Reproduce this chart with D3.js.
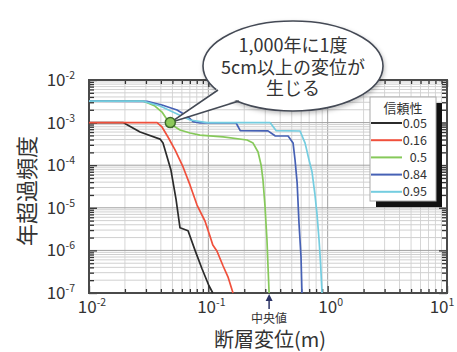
<!DOCTYPE html>
<html><head><meta charset="utf-8">
<script src="https://cdn.jsdelivr.net/npm/d3@7"></script>
<style>
body{margin:0;background:#fff}
text{font-family:"Noto Sans CJK JP","Noto Sans",sans-serif;fill:#333}
</style>
</head><body><svg id="c" width="457" height="352"></svg>
<script>
// ---- data ----
const seriesNames = ["0.05", "0.16", "0.5", "0.84", "0.95"];
const seriesColors = ["#2b2b2b", "#f0503c", "#86c95a", "#4661b5", "#74cde0"];

const disp005 = [0.01, 0.0193, 0.0268, 0.0394, 0.0417, 0.0486, 0.0536, 0.0579, 0.0676, 0.0774, 0.0885, 0.101, 0.109];
const freq005 = [1e-3, 1e-3, 6.0e-4, 4.1e-4, 3.3e-4, 7.7e-5, 1.6e-5, 3.4e-6, 2.9e-6, 1.0e-6, 3.7e-7, 1.5e-7, 1e-7];

const disp016 = [0.01, 0.0372, 0.0409, 0.0459, 0.0526, 0.0614, 0.0703, 0.0804, 0.0937, 0.103, 0.109, 0.118, 0.133, 0.146, 0.161];
const freq016 = [1e-3, 1e-3, 7.9e-4, 4.6e-4, 2.3e-4, 9.1e-5, 3.4e-5, 1.16e-5, 4.9e-6, 2.2e-6, 1.34e-6, 9.7e-7, 4.3e-7, 2.4e-7, 1e-7];

const disp050 = [0.01, 0.0284, 0.0357, 0.0409, 0.0459, 0.0497, 0.0579, 0.0703, 0.0851, 0.133, 0.211, 0.237, 0.261, 0.277, 0.287, 0.298, 0.310, 0.316, 0.323];
const freq050 = [3.2e-3, 3.2e-3, 2.45e-3, 1.77e-3, 1.09e-3, 8.8e-4, 6.7e-4, 5.7e-4, 5.1e-4, 4.6e-4, 3.9e-4, 3.3e-4, 2.04e-4, 1.0e-4, 4.5e-5, 1.16e-5, 1.75e-6, 4.5e-7, 1e-7];

const disp084 = [0.01, 0.0306, 0.0409, 0.0547, 0.0662, 0.0745, 0.0851, 0.171, 0.185, 0.316, 0.362, 0.466, 0.513, 0.533, 0.555, 0.575, 0.598, 0.609];
const freq084 = [3.2e-3, 3.15e-3, 2.59e-3, 1.98e-3, 1.43e-3, 1.05e-3, 9.8e-4, 9.8e-4, 6.5e-4, 6.4e-4, 4.9e-4, 4.85e-4, 3.3e-4, 1.32e-4, 3.8e-5, 4.4e-6, 7.0e-7, 1e-7];

const disp095 = [0.01, 0.0284, 0.0394, 0.0526, 0.0703, 0.0975, 0.329, 0.369, 0.587, 0.647, 0.698, 0.740, 0.783, 0.815, 0.847, 0.871, 0.897];
const freq095 = [3.2e-3, 3.2e-3, 2.45e-3, 1.68e-3, 1.15e-3, 1.0e-3, 1.0e-3, 6.5e-4, 6.35e-4, 3.3e-4, 1.32e-4, 6.9e-5, 2.0e-5, 6.8e-6, 1.75e-6, 5.3e-7, 1e-7];

const xTickExps = [-2, -1, 0, 1];
const yTickExps = [-2, -3, -4, -5, -6, -7];
const medianValue = 0.323;
const highlightPoint = [0.048, 1e-3];
const bubbleLines = ["1,000年に1度", "5cm以上の変位が", "生じる"];
const legendTitle = "信頼性";
const xTitle = "断層変位(m)";
const yTitle = "年超過頻度";
const medianLabel = "中央値";

// ---- chart ----
const L = 89, R = 447, T = 80, B = 293;
const svg = d3.select("#c");
const x = d3.scaleLog().domain([1e-2, 10]).range([L, R]);
const y = d3.scaleLog().domain([1e-7, 1e-2]).range([B, T]);

const defs = svg.append("defs");
const f = defs.append("filter").attr("id", "sh").attr("x", "-20%").attr("y", "-20%").attr("width", "140%").attr("height", "140%");
f.append("feDropShadow").attr("dx", 1).attr("dy", 2).attr("stdDeviation", 2).attr("flood-color", "#000").attr("flood-opacity", 0.25);

// grid
const xt = x.ticks(), yt = y.ticks();
const isMajor = v => Math.abs(Math.log10(v) - Math.round(Math.log10(v))) < 1e-6;
const g = svg.append("g");
g.selectAll(".vg").data(xt).join("line")
  .attr("x1", d => x(d)).attr("x2", d => x(d)).attr("y1", T).attr("y2", B)
  .attr("stroke", d => isMajor(d) ? "#a0a0a0" : "#d6d6d6").attr("stroke-width", 1);
g.selectAll(".hg").data(yt).join("line")
  .attr("y1", d => y(d)).attr("y2", d => y(d)).attr("x1", L).attr("x2", R)
  .attr("stroke", d => isMajor(d) ? "#a0a0a0" : "#d0d0d0").attr("stroke-width", 1);

// axes with inward ticks
function styleAxis(sel) {
  sel.select(".domain").remove();
  sel.selectAll("text").remove();
  sel.selectAll("line").attr("stroke", "#333").attr("stroke-width", 1.3);
}
const xMaj = xt.filter(isMajor), xMin = xt.filter(d => !isMajor(d));
const yMaj = yt.filter(isMajor), yMin = yt.filter(d => !isMajor(d));
svg.append("g").attr("transform", `translate(0,${B})`).call(d3.axisBottom(x).tickValues(xMaj).tickSize(-7)).call(styleAxis);
svg.append("g").attr("transform", `translate(0,${B})`).call(d3.axisBottom(x).tickValues(xMin).tickSize(-4)).call(styleAxis);
svg.append("g").attr("transform", `translate(0,${T})`).call(d3.axisTop(x).tickValues(xMaj).tickSize(-7)).call(styleAxis);
svg.append("g").attr("transform", `translate(0,${T})`).call(d3.axisTop(x).tickValues(xMin).tickSize(-4)).call(styleAxis);
svg.append("g").attr("transform", `translate(${L},0)`).call(d3.axisLeft(y).tickValues(yMaj).tickSize(-8)).call(styleAxis);
svg.append("g").attr("transform", `translate(${L},0)`).call(d3.axisLeft(y).tickValues(yMin).tickSize(-5)).call(styleAxis);
svg.append("g").attr("transform", `translate(${R},0)`).call(d3.axisRight(y).tickValues(yMaj).tickSize(-8)).call(styleAxis);
svg.append("g").attr("transform", `translate(${R},0)`).call(d3.axisRight(y).tickValues(yMin).tickSize(-5)).call(styleAxis);

// frame
svg.append("rect").attr("x", L).attr("y", T).attr("width", R - L).attr("height", B - T)
  .attr("fill", "none").attr("stroke", "#4a4a4a").attr("stroke-width", 2);

// tick labels
function powLabel(sel, e) {
  sel.append("tspan").text("10");
  sel.append("tspan").attr("dy", -7).attr("font-size", 10.5).text(e);
}
svg.selectAll(".yl").data(yTickExps).join("text")
  .attr("x", 75).attr("y", d => y(Math.pow(10, d)) + 6)
  .attr("text-anchor", "end").attr("font-size", 17)
  .each(function (d) { powLabel(d3.select(this), d); });
svg.selectAll(".xl").data(xTickExps).join("text")
  .attr("x", d => Math.min(x(Math.pow(10, d)) + 3, 442)).attr("y", 313)
  .attr("text-anchor", "middle").attr("font-size", 17)
  .each(function (d) { powLabel(d3.select(this), d); });

// series
const series = [
  [disp005, freq005], [disp016, freq016], [disp050, freq050], [disp084, freq084], [disp095, freq095]
];
const line = d3.line().x(d => x(d[0])).y(d => y(d[1]));
series.forEach((s, i) => {
  const pts = s[0].map((v, k) => [v, s[1][k]]);
  svg.append("path").datum(pts).attr("d", line)
    .attr("fill", "none").attr("stroke", seriesColors[i]).attr("stroke-width", 1.7)
    .attr("stroke-linejoin", "round");
});

// median arrow
const mx = x(medianValue);
svg.append("line").attr("x1", mx).attr("x2", mx).attr("y1", 300).attr("y2", 309)
  .attr("stroke", "#2c3366").attr("stroke-width", 1.5);
svg.append("path").attr("d", `M${mx},${B + 1} L${mx - 3.5},${B + 8} L${mx + 3.5},${B + 8} Z`).attr("fill", "#2c3366");
svg.append("text").attr("x", mx).attr("y", 323).attr("text-anchor", "middle").attr("font-size", 12).text(medianLabel);

// axis titles
svg.append("text").attr("x", 270).attr("y", 347).attr("text-anchor", "middle").attr("font-size", 20).text(xTitle);
svg.append("text").attr("transform", "translate(25,191) rotate(-90)").attr("text-anchor", "middle")
  .attr("dominant-baseline", "central").attr("font-size", 22).text(yTitle);

// legend
const lx = 370, ly = 97, lw = 66, lh = 104;
svg.append("rect").attr("x", lx + 6).attr("y", ly + 6).attr("width", lw).attr("height", lh).attr("fill", "#111");
svg.append("rect").attr("x", lx).attr("y", ly).attr("width", lw).attr("height", lh)
  .attr("fill", "#fff").attr("stroke", "#aaa").attr("stroke-width", 1);
svg.append("text").attr("x", 403).attr("y", 113).attr("text-anchor", "middle").attr("font-size", 13).text(legendTitle);
seriesNames.forEach((n, i) => {
  const yy = 123 + i * 17.2;
  svg.append("line").attr("x1", lx + 1).attr("x2", 402).attr("y1", yy).attr("y2", yy)
    .attr("stroke", seriesColors[i]).attr("stroke-width", 2);
  svg.append("text").attr("x", 427).attr("y", yy + 4.5).attr("text-anchor", "end").attr("font-size", 12.5).text(n);
});

// callout bubble
const px = x(highlightPoint[0]), py = y(highlightPoint[1]);
const cx = 293, cy = 66, rx = 90, ry = 45;
const bub = svg.append("g");
bub.append("ellipse").attr("cx", cx).attr("cy", cy).attr("rx", rx).attr("ry", ry)
  .attr("fill", "#fff").attr("stroke", "#444a55").attr("stroke-width", 1.6).attr("filter", "url(#sh)");
const p1 = [218, 90], p2 = [239, 101];
bub.append("path").attr("d", `M${px},${py} L${p1[0] + 2},${p1[1] - 3} L${p2[0] + 4},${p2[1] - 3} Z`).attr("fill", "#fff");
bub.append("path").attr("d", `M${p1[0]},${p1[1]} L${px},${py} L${p2[0]},${p2[1]}`)
  .attr("fill", "none").attr("stroke", "#444a55").attr("stroke-width", 1.6).attr("stroke-linejoin", "round");
bubbleLines.forEach((t, i) => {
  bub.append("text").attr("x", cx).attr("y", 52 + i * 21.5).attr("text-anchor", "middle")
    .attr("font-size", 18).text(t);
});
svg.append("circle").attr("cx", px).attr("cy", py).attr("r", 5)
  .attr("fill", "#8cc85a").attr("stroke", "#3d6b2c").attr("stroke-width", 1.5);
</script>
</body></html>
